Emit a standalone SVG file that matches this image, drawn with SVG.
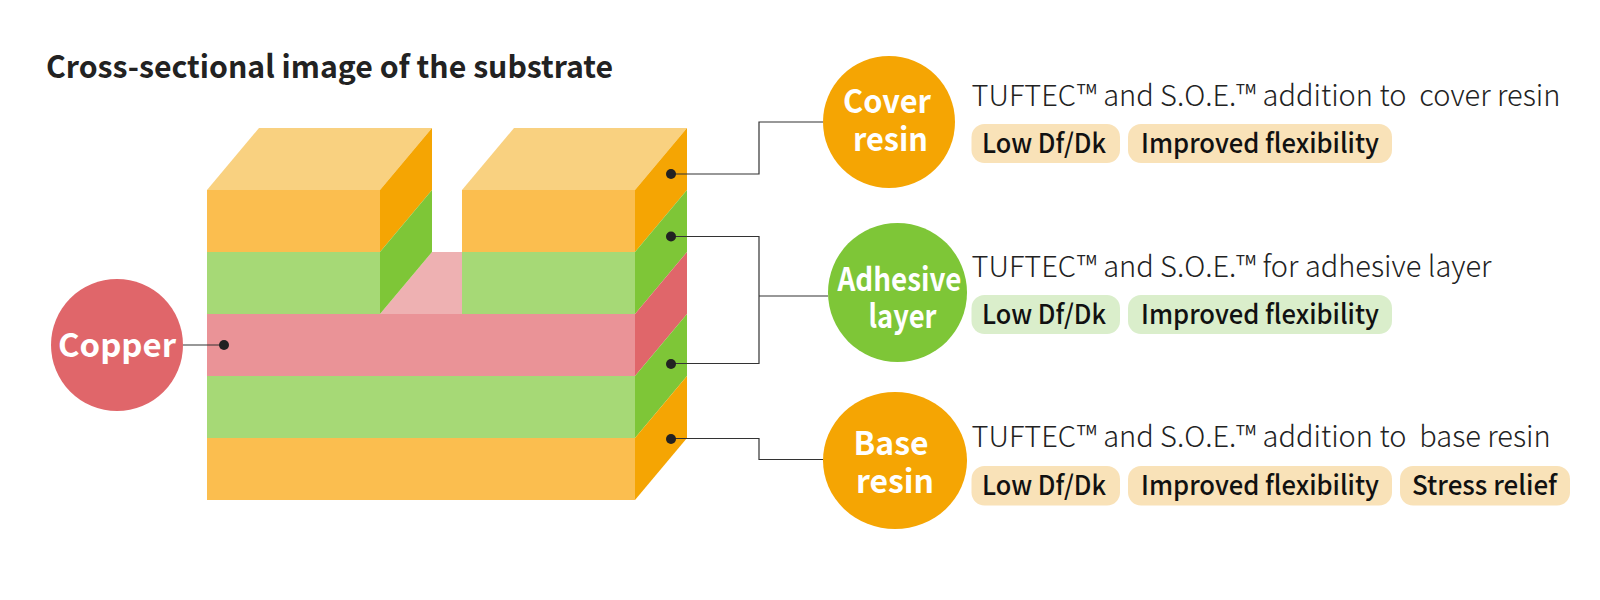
<svg xmlns="http://www.w3.org/2000/svg" width="1600" height="600" viewBox="0 0 1600 600">
<style>
text{font-family:"Noto Sans CJK JP","Noto Sans",sans-serif}
.t{font-size:31px;font-weight:700;fill:#222}
.c{font-size:32px;font-weight:700;fill:#fff;text-anchor:middle}
.d{font-size:29px;font-weight:300;fill:#222;white-space:pre}
.p{font-size:27px;font-weight:500;fill:#111}
.po{fill:#f9e2b8}.pg{fill:#daeecb}
.ln{fill:none;stroke:#333;stroke-width:1.200}
.dot{fill:#222}
.o1{fill:#f9d180}.o2{fill:#fbbe4f}.o3{fill:#f5a503}.g2{fill:#a6d976}.g3{fill:#7ec637}.r1{fill:#eeb1b2}.r2{fill:#ea9397}.r3{fill:#e0666a}
</style>
<rect width="1600" height="600" fill="#fff"/>
<text class="t" x="46" y="78" textLength="567" lengthAdjust="spacingAndGlyphs">Cross-sectional image of the substrate</text>
<g id="substrate">
<polygon class="r1" points="380,314 432,252 462,252 462,314"/>
<polygon class="o1" points="207,190 259,128 432,128 380,190"/>
<polygon class="o1" points="462,190 514,128 687,128 635,190"/>
<rect class="o2" x="207" y="190" width="173" height="62"/>
<rect class="g2" x="207" y="252" width="173" height="62"/>
<rect class="o2" x="462" y="190" width="173" height="62"/>
<rect class="g2" x="462" y="252" width="173" height="62"/>
<rect class="r2" x="207" y="314" width="428" height="62"/>
<rect class="g2" x="207" y="376" width="428" height="62"/>
<rect class="o2" x="207" y="438" width="428" height="62"/>
<polygon class="o3" points="380,190 432,128 432,190 380,252"/>
<polygon class="g3" points="380,252 432,190 432,252 380,314"/>
<polygon class="o3" points="635,190 687,128 687,190 635,252"/>
<polygon class="g3" points="635,252 687,190 687,252 635,314"/>
<polygon class="r3" points="635,314 687,252 687,314 635,376"/>
<polygon class="g3" points="635,376 687,314 687,376 635,438"/>
<polygon class="o3" points="635,438 687,376 687,438 635,500"/>
</g>
<g id="connectors">
<path class="ln" d="M183 345H224"/>
<path class="ln" d="M671 174H759V122H823"/>
<path class="ln" d="M671 236.500H759V363.500H671M759 296H828"/>
<path class="ln" d="M671 438.500H759V459.500H823"/>
<circle class="dot" cx="224" cy="345" r="5"/>
<circle class="dot" cx="671" cy="174" r="5"/>
<circle class="dot" cx="671" cy="236.500" r="5"/>
<circle class="dot" cx="671" cy="364" r="5"/>
<circle class="dot" cx="671" cy="439" r="5"/>
</g>
<g id="copper">
<circle class="r3" cx="117" cy="345" r="66"/>
<text class="c" x="117" y="357" textLength="118" lengthAdjust="spacingAndGlyphs">Copper</text>
</g>
<g id="cover-resin">
<circle class="o3" cx="889" cy="122" r="66"/>
<text class="c" x="887" y="113" textLength="88" lengthAdjust="spacingAndGlyphs">Cover</text>
<text class="c" x="890.500" y="151" textLength="75" lengthAdjust="spacingAndGlyphs">resin</text>
<text class="d" x="971.500" y="106">TUFTEC™ and S.O.E.™ addition to  cover resin</text>
<rect class="po" x="971.500" y="124" width="148.500" height="39" rx="13"/>
<text class="p" x="982" y="153" textLength="124" lengthAdjust="spacingAndGlyphs">Low Df/Dk</text>
<rect class="po" x="1128" y="124" width="264" height="39" rx="13"/>
<text class="p" x="1141" y="153" textLength="238" lengthAdjust="spacingAndGlyphs">Improved flexibility</text>
</g>
<g id="adhesive-layer">
<circle class="g3" cx="897.500" cy="292.500" r="69.500"/>
<text class="c" x="899.500" y="291" textLength="124" lengthAdjust="spacingAndGlyphs">Adhesive</text>
<text class="c" x="902.500" y="328" textLength="68" lengthAdjust="spacingAndGlyphs">layer</text>
<text class="d" x="971.500" y="277">TUFTEC™ and S.O.E.™ for adhesive layer</text>
<rect class="pg" x="971.500" y="295" width="148.500" height="39" rx="13"/>
<text class="p" x="982" y="324" textLength="124" lengthAdjust="spacingAndGlyphs">Low Df/Dk</text>
<rect class="pg" x="1128" y="295" width="264" height="39" rx="13"/>
<text class="p" x="1141" y="324" textLength="238" lengthAdjust="spacingAndGlyphs">Improved flexibility</text>
</g>
<g id="base-resin">
<ellipse class="o3" cx="895" cy="460.500" rx="72" ry="68.500"/>
<text class="c" x="891" y="454.500" textLength="75" lengthAdjust="spacingAndGlyphs">Base</text>
<text class="c" x="895" y="493" textLength="78" lengthAdjust="spacingAndGlyphs">resin</text>
<text class="d" x="971.500" y="447">TUFTEC™ and S.O.E.™ addition to  base resin</text>
<rect class="po" x="971.500" y="466" width="148.500" height="39.500" rx="13"/>
<text class="p" x="982" y="495" textLength="124" lengthAdjust="spacingAndGlyphs">Low Df/Dk</text>
<rect class="po" x="1128" y="466" width="264" height="39.500" rx="13"/>
<text class="p" x="1141" y="495" textLength="238" lengthAdjust="spacingAndGlyphs">Improved flexibility</text>
<rect class="po" x="1400" y="466" width="170" height="39.500" rx="13"/>
<text class="p" x="1412" y="495" textLength="145" lengthAdjust="spacingAndGlyphs">Stress relief</text>
</g>
</svg>
